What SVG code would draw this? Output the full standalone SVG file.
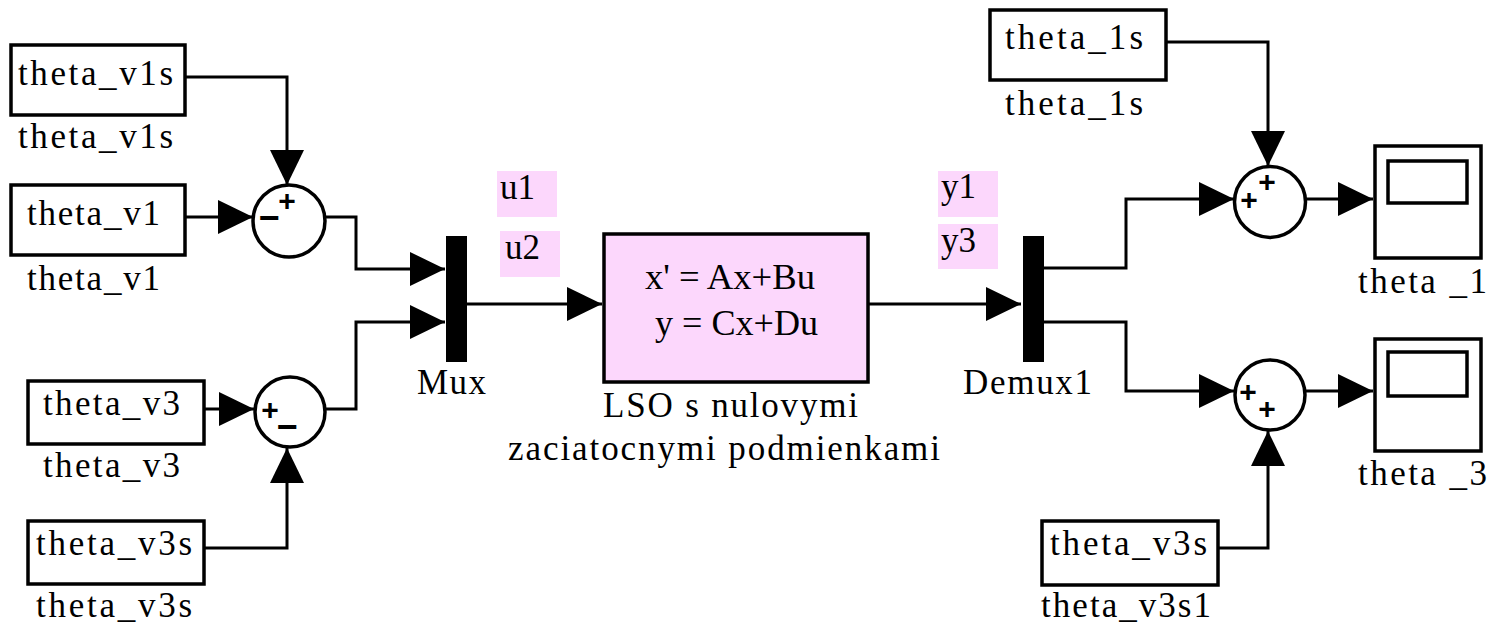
<svg xmlns="http://www.w3.org/2000/svg" width="1500" height="627" viewBox="0 0 1500 627">
  <style>
    .blk { fill: #ffffff; stroke: #000000; stroke-width: 3.5; }
    .sum { fill: #ffffff; stroke: #000000; stroke-width: 3.5; }
    .lso { fill: #fcd7fc; stroke: #000000; stroke-width: 3.5; }
    .bar { fill: #000000; }
    .tag { fill: #fcd7fc; }
    .wire { fill: none; stroke: #000000; stroke-width: 3; marker-end: url(#arrow); }
    .t { font-family: "Liberation Serif", "Times New Roman", serif; font-size: 35px; fill: #000000; }
    .eq { font-family: "Liberation Serif", "Times New Roman", serif; font-size: 35px; fill: #000000; }
    .sg { font-family: "Liberation Sans", Arial, sans-serif; font-size: 30px; font-weight: bold; fill: #000000; text-anchor: middle; }
    .mn { font-size: 36px; }
  </style>
  <defs>
    <marker id="arrow" markerUnits="userSpaceOnUse" markerWidth="36" markerHeight="34" refX="35" refY="17" orient="auto">
      <path d="M0,0 L35,17 L0,34 Z" fill="#000000"/>
    </marker>
  </defs>

  <!-- signal lines -->
  <g id="connectors">
    <path class="wire" d="M185,77 H287 V185"/>
    <path class="wire" d="M185,217 H253"/>
    <path class="wire" d="M325,217 H356 V269 H445"/>
    <path class="wire" d="M325,409 H356 V322 H445"/>
    <path class="wire" d="M204,409 H254"/>
    <path class="wire" d="M204,548 H287 V448"/>
    <path class="wire" d="M467,304 H602"/>
    <path class="wire" d="M868,304 H1021"/>
    <path class="wire" d="M1044,268 H1126 V199 H1234"/>
    <path class="wire" d="M1044,322 H1126 V391 H1234"/>
    <path class="wire" d="M1166,42 H1268 V166"/>
    <path class="wire" d="M1218,548 H1268 V431"/>
    <path class="wire" d="M1306,199 H1373"/>
    <path class="wire" d="M1306,391 H1373"/>
  </g>

  <!-- inputs on the left -->
  <g id="theta_v1s">
    <rect class="blk" x="11" y="45" width="174" height="70"/>
    <text class="t" x="18" y="85" textLength="155" lengthAdjust="spacing">theta_v1s</text>
    <text class="t" x="18" y="148" textLength="155" lengthAdjust="spacing">theta_v1s</text>
  </g>
  <g id="theta_v1">
    <rect class="blk" x="11" y="185" width="174" height="70"/>
    <text class="t" x="27" y="225" textLength="133" lengthAdjust="spacing">theta_v1</text>
    <text class="t" x="27" y="290" textLength="133" lengthAdjust="spacing">theta_v1</text>
  </g>
  <g id="theta_v3">
    <rect class="blk" x="28" y="381" width="176" height="63"/>
    <text class="t" x="43" y="415" textLength="137" lengthAdjust="spacing">theta_v3</text>
    <text class="t" x="43" y="477" textLength="137" lengthAdjust="spacing">theta_v3</text>
  </g>
  <g id="theta_v3s">
    <rect class="blk" x="28" y="521" width="176" height="63"/>
    <text class="t" x="36" y="555" textLength="156" lengthAdjust="spacing">theta_v3s</text>
    <text class="t" x="36" y="617" textLength="156" lengthAdjust="spacing">theta_v3s</text>
  </g>

  <!-- summing junctions on the left -->
  <g id="sum1">
    <circle class="sum" cx="289" cy="221" r="36"/>
    <text class="sg" x="287" y="211">+</text>
    <text class="sg mn" x="269" y="230">−</text>
  </g>
  <g id="sum2">
    <circle class="sum" cx="290" cy="412" r="35"/>
    <text class="sg" x="270" y="420">+</text>
    <text class="sg mn" x="287" y="439">−</text>
  </g>

  <!-- mux -->
  <g id="mux">
    <rect class="bar" x="446" y="236" width="21" height="126"/>
    <text class="t" x="417" y="394" textLength="69" lengthAdjust="spacing">Mux</text>
  </g>

  <!-- signal name tags -->
  <g id="tag_u1">
    <rect class="tag" x="497" y="171" width="60" height="46"/>
    <text class="t" x="500" y="199">u1</text>
  </g>
  <g id="tag_u2">
    <rect class="tag" x="500" y="231" width="60" height="46"/>
    <text class="t" x="505" y="259">u2</text>
  </g>

  <!-- state-space block -->
  <g id="lso">
    <rect class="lso" x="604" y="234" width="264" height="148"/>
    <text class="eq" x="645" y="289" textLength="170" lengthAdjust="spacingAndGlyphs">x' = Ax+Bu</text>
    <text class="eq" x="655" y="335" textLength="163" lengthAdjust="spacingAndGlyphs">y = Cx+Du</text>
    <text class="t" x="603" y="417" textLength="255" lengthAdjust="spacing">LSO s nulovymi</text>
    <text class="t" x="508" y="460" textLength="432" lengthAdjust="spacing">zaciatocnymi podmienkami</text>
  </g>

  <g id="tag_y1">
    <rect class="tag" x="938" y="171" width="60" height="46"/>
    <text class="t" x="941" y="198">y1</text>
  </g>
  <g id="tag_y3">
    <rect class="tag" x="938" y="224" width="60" height="45"/>
    <text class="t" x="941" y="252">y3</text>
  </g>

  <!-- demux -->
  <g id="demux1">
    <rect class="bar" x="1023" y="236" width="21" height="126"/>
    <text class="t" x="963" y="394" textLength="129" lengthAdjust="spacing">Demux1</text>
  </g>

  <!-- inputs on the right -->
  <g id="theta_1s">
    <rect class="blk" x="990" y="10" width="176" height="70"/>
    <text class="t" x="1005" y="49" textLength="138" lengthAdjust="spacing">theta_1s</text>
    <text class="t" x="1005" y="115" textLength="138" lengthAdjust="spacing">theta_1s</text>
  </g>
  <g id="theta_v3s1">
    <rect class="blk" x="1042" y="521" width="176" height="64"/>
    <text class="t" x="1050" y="555" textLength="157" lengthAdjust="spacing">theta_v3s</text>
    <text class="t" x="1041" y="617" textLength="170" lengthAdjust="spacing">theta_v3s1</text>
  </g>

  <!-- summing junctions on the right -->
  <g id="sum3">
    <circle class="sum" cx="1270" cy="202" r="35.5"/>
    <text class="sg" x="1267" y="192">+</text>
    <text class="sg" x="1249" y="210">+</text>
  </g>
  <g id="sum4">
    <circle class="sum" cx="1270" cy="395" r="35"/>
    <text class="sg" x="1248" y="402">+</text>
    <text class="sg" x="1267" y="419">+</text>
  </g>

  <!-- scopes -->
  <g id="scope_theta_1">
    <rect class="blk" x="1375" y="146" width="106" height="112"/>
    <rect class="blk" x="1388" y="161" width="79" height="42"/>
    <text class="t" x="1358" y="293" textLength="129" lengthAdjust="spacing">theta _1</text>
  </g>
  <g id="scope_theta_3">
    <rect class="blk" x="1375" y="339" width="106" height="112"/>
    <rect class="blk" x="1388" y="352" width="79" height="44"/>
    <text class="t" x="1358" y="485" textLength="129" lengthAdjust="spacing">theta _3</text>
  </g>
</svg>
